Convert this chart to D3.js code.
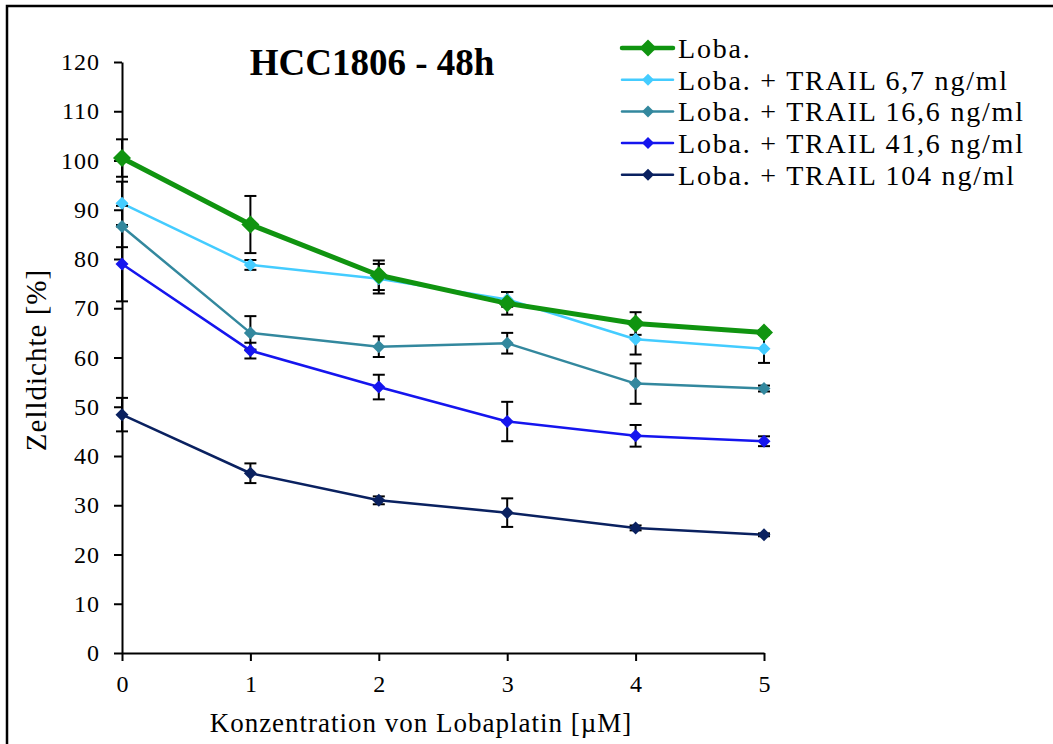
<!DOCTYPE html>
<html>
<head>
<meta charset="utf-8">
<script src="https://cdn.jsdelivr.net/npm/d3@7"></script>
<style>
  html, body { margin: 0; padding: 0; background: #fff; }
  svg { display: block; }
</style>
</head>
<body>
<svg id="chart" width="1053" height="744"></svg>
<script>
// Lobaplatin concentrations (µM)
const concentrations = [0, 1, 2, 3, 4, 5];

// Mean cell density (%) per treatment
const loba        = [100.5, 87.0, 76.7, 71.0, 66.9, 65.1];
const trail6_7    = [91.3, 78.8, 76.0, 71.8, 63.7, 61.8];
const trail16_6   = [86.6, 65.0, 62.2, 62.9, 54.7, 53.7];
const trail41_6   = [79.0, 61.4, 54.0, 47.0, 44.1, 43.0];
const trail104    = [48.4, 36.5, 31.0, 28.5, 25.4, 24.0];

// Standard deviations
const lobaErr      = [3.8, 5.8, 3.0, 2.3, 2.3, 0.4];
const trail6_7Err  = [4.4, 1.0, 3.0, 1.5, 3.1, 2.9];
const trail16_6Err = [4.2, 3.4, 2.1, 2.1, 4.1, 0.6];
const trail41_6Err = [7.6, 1.6, 2.5, 4.0, 2.2, 1.0];
const trail104Err  = [3.4, 2.0, 0.8, 2.9, 0.5, 0.3];

const seriesNames = [
  "Loba.",
  "Loba. + TRAIL 6,7 ng/ml",
  "Loba. + TRAIL 16,6 ng/ml",
  "Loba. + TRAIL 41,6 ng/ml",
  "Loba. + TRAIL 104 ng/ml"
];
const yTicks = [0, 10, 20, 30, 40, 50, 60, 70, 80, 90, 100, 110, 120];

const FONT = "Liberation Serif";

const series = [
  { name: seriesNames[0], values: loba,      err: lobaErr,      color: "#109410", width: 5,   marker: 9 },
  { name: seriesNames[1], values: trail6_7,  err: trail6_7Err,  color: "#44ccff", width: 2.5, marker: 6.5 },
  { name: seriesNames[2], values: trail16_6, err: trail16_6Err, color: "#33889e", width: 2.5, marker: 6.5 },
  { name: seriesNames[3], values: trail41_6, err: trail41_6Err, color: "#1515ee", width: 2.5, marker: 6.5 },
  { name: seriesNames[4], values: trail104,  err: trail104Err,  color: "#0a2160", width: 2.5, marker: 6.5 }
];

const svg = d3.select("#chart");

// outer frame
svg.append("rect")
  .attr("x", 7).attr("y", 6)
  .attr("width", 1100).attr("height", 800)
  .attr("fill", "none").attr("stroke", "#000").attr("stroke-width", 2.5);

const x = d3.scaleLinear().domain([0, 5]).range([122, 764]);
const y = d3.scaleLinear().domain([0, 120]).range([653, 62]);

// y axis
const yAxis = svg.append("g")
  .attr("transform", `translate(${x(0)},0)`)
  .call(d3.axisLeft(y).tickValues(yTicks).tickSize(8).tickPadding(14).tickSizeOuter(0));
yAxis.select(".domain").attr("stroke-width", 2);
yAxis.selectAll(".tick line").attr("stroke-width", 2);
yAxis.selectAll("text").style("font-family", FONT).style("font-size", "24px")
  .style("letter-spacing", "1px").attr("fill", "#000");

// x axis
const xAxis = svg.append("g")
  .attr("transform", `translate(0,${y(0)})`)
  .call(d3.axisBottom(x).tickValues(concentrations).tickFormat(d3.format("d")).tickSize(8).tickPadding(14).tickSizeOuter(0));
xAxis.select(".domain").attr("stroke-width", 2);
xAxis.selectAll(".tick line").attr("stroke-width", 2);
xAxis.selectAll("text").style("font-family", FONT).style("font-size", "24px").attr("fill", "#000");

// axis titles
svg.append("text")
  .attr("x", 421).attr("y", 732)
  .attr("text-anchor", "middle")
  .style("font-family", FONT).style("font-size", "27px").style("letter-spacing", "1px")
  .text("Konzentration von Lobaplatin [µM]");

svg.append("text")
  .attr("transform", "translate(46,360) rotate(-90)")
  .attr("text-anchor", "middle")
  .style("font-family", FONT).style("font-size", "29px").style("letter-spacing", "1px")
  .text("Zelldichte [%]");

// chart title
svg.append("text")
  .attr("x", 372).attr("y", 75)
  .attr("text-anchor", "middle")
  .style("font-family", FONT).style("font-size", "37px").style("font-weight", "bold")
  .text("HCC1806 - 48h");

const diamond = (s) => `M0,${-s}L${s},0L0,${s}L${-s},0Z`;
const line = d3.line().x((d, i) => x(concentrations[i])).y(d => y(d));

// draw from the last series so the main curve sits on top
const drawOrder = series.slice().reverse();

drawOrder.forEach(s => {
  svg.append("path")
    .datum(s.values)
    .attr("d", line)
    .attr("fill", "none")
    .attr("stroke", s.color)
    .attr("stroke-width", s.width)
    .attr("stroke-linejoin", "round");
});

// error bars
series.forEach(s => {
  const eb = svg.append("g");
  s.values.forEach((v, i) => {
    const cx = x(concentrations[i]);
    const lo = y(v - s.err[i]), hi = y(v + s.err[i]);
    eb.append("line").attr("x1", cx).attr("x2", cx).attr("y1", lo).attr("y2", hi)
      .attr("stroke", "#000").attr("stroke-width", 2);
    [lo, hi].forEach(yy => {
      eb.append("line").attr("x1", cx - 6).attr("x2", cx + 6).attr("y1", yy).attr("y2", yy)
        .attr("stroke", "#000").attr("stroke-width", 2);
    });
  });
});

// markers
drawOrder.forEach(s => {
  svg.append("g").selectAll("path")
    .data(s.values)
    .join("path")
    .attr("transform", (d, i) => `translate(${x(concentrations[i])},${y(d)})`)
    .attr("d", diamond(s.marker))
    .attr("fill", s.color);
});

// legend
const legend = svg.append("g");
series.forEach((s, i) => {
  const ly = 48 + i * 31.7;
  legend.append("line")
    .attr("x1", 622).attr("x2", 673).attr("y1", ly).attr("y2", ly)
    .attr("stroke", s.color).attr("stroke-width", i === 0 ? 4.5 : 2.5).attr("stroke-linecap", "round");
  legend.append("path")
    .attr("transform", `translate(648,${ly})`)
    .attr("d", diamond(s.marker - 0.5))
    .attr("fill", s.color);
  legend.append("text")
    .attr("x", 678).attr("y", ly + 10)
    .style("font-family", FONT).style("font-size", "28px").style("letter-spacing", "1.8px")
    .text(s.name);
});
</script>
</body>
</html>
